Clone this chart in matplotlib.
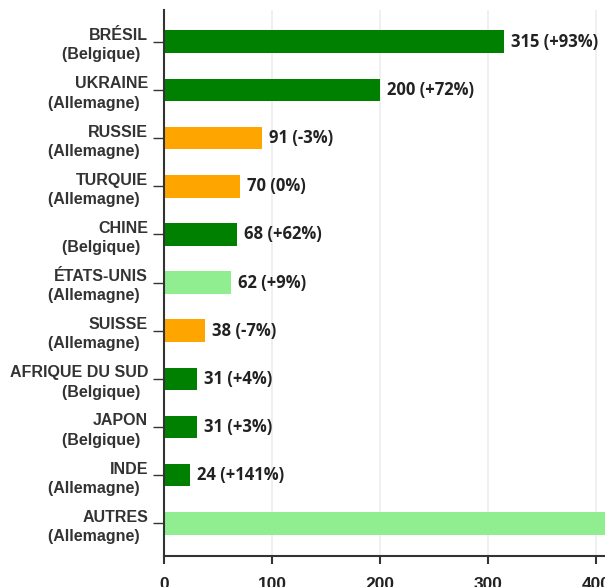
import matplotlib.pyplot as plt
import numpy as np

pays = ['BRÉSIL', 'UKRAINE', 'RUSSIE', 'TURQUIE', 'CHINE', 'ÉTATS-UNIS',
        'SUISSE', 'AFRIQUE DU SUD', 'JAPON', 'INDE', 'AUTRES']
origine = ['Belgique', 'Allemagne', 'Allemagne', 'Allemagne', 'Belgique', 'Allemagne',
           'Allemagne', 'Belgique', 'Belgique', 'Allemagne', 'Allemagne']
valeurs = [315, 200, 91, 70, 68, 62, 38, 31, 31, 24, 470]
variation = ['+93%', '+72%', '-3%', '0%', '+62%', '+9%', '-7%', '+4%', '+3%', '+141%', None]
couleurs = ['green', 'green', 'orange', 'orange', 'green', 'lightgreen',
            'orange', 'green', 'green', 'green', 'lightgreen']

fig = plt.figure(figsize=(6.05, 5.87), dpi=100)
# axes runs past the right edge of the figure, like the cropped original
x0 = 164 / 605
w = 540 / 605
ax = fig.add_axes([x0, 1 - 556 / 587, w, 546 / 587])

y = np.arange(len(pays))
ax.barh(y, valeurs, height=0.47, color=couleurs, zorder=2)

for yi, v, var in zip(y, valeurs, variation):
    if var is None:
        continue
    ax.annotate(f'{v} ({var})', (v, yi), xytext=(5, 0), textcoords='offset points',
                va='center', ha='left', fontsize=12, fontweight='bold',
                family='Open Sans', color='#222222')

ax.set_xlim(0, 500)
ax.set_ylim(len(pays) - 1 + 0.68, -0.66)
ax.set_xticks([0, 100, 200, 300, 400, 500])
ax.set_yticks(y)
# second line sits a little left of the first, as in the original
ax.set_yticklabels([f'{p}\n({o})\u2002' for p, o in zip(pays, origine)],
                   fontsize=11.5, fontweight='bold', family='Liberation Sans',
                   color='#333333', linespacing=1.35, ha='right')
for lab in ax.get_xticklabels():
    lab.set_fontsize(12.5)
    lab.set_fontweight('bold')
    lab.set_family('Liberation Sans')
    lab.set_color('#222222')

ax.xaxis.grid(True, color='#eeeeee', linewidth=1.2, zorder=0)
ax.set_axisbelow(True)
for s in ['top', 'right']:
    ax.spines[s].set_visible(False)
for s in ['left', 'bottom']:
    ax.spines[s].set_color('#333333')
    ax.spines[s].set_linewidth(1.5)
ax.tick_params(axis='y', length=8, width=1, color='#333333', pad=3.5)
ax.tick_params(axis='x', length=6, width=1.5, color='#333333', pad=9)

fig.savefig('out.png', dpi=100)
